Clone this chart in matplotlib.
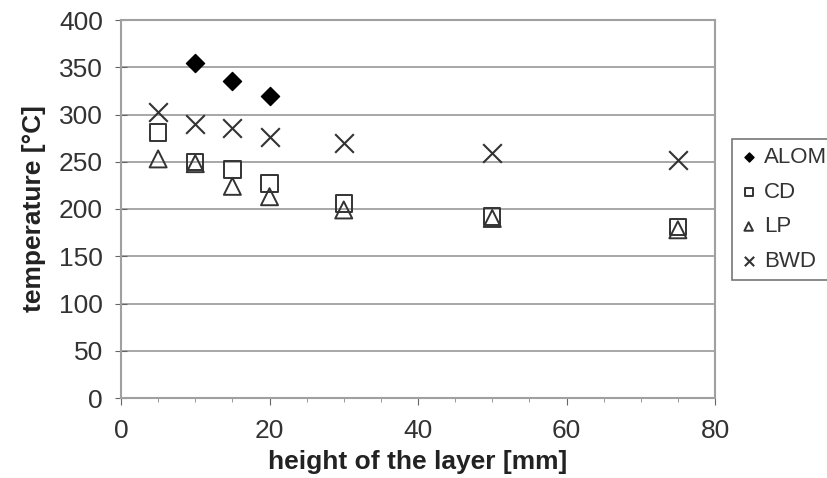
import matplotlib
matplotlib.use("Agg")
import matplotlib.pyplot as plt
from matplotlib.ticker import MultipleLocator

plt.rcParams['font.family'] = ['Liberation Sans', 'DejaVu Sans']

x_alom = [10, 15, 20]
alom = [355, 335, 320]
x_all = [5, 10, 15, 20, 30, 50, 75]
cd = [281, 250, 242, 227, 206, 192, 181]
lp = [253, 248, 224, 213, 199, 190, 178]
bwd = [303, 290, 286, 276, 270, 259, 252]

fig = plt.figure(figsize=(8.27, 4.78), dpi=100)
ax = fig.add_axes([121/827, 80/478, (715-121)/827, (398-20)/478])

gray = '#a0a0a0'
ax.scatter(x_alom, alom, marker='D', s=85, color='black', label='ALOM', zorder=3)
ax.scatter(x_all, cd, marker='s', s=140, facecolors='none', edgecolors='#333333', linewidths=1.4, label='CD', zorder=3)
ax.scatter(x_all, lp, marker='^', s=150, facecolors='none', edgecolors='#333333', linewidths=1.4, label='LP', zorder=3)
ax.scatter(x_all, bwd, marker='x', s=180, color='#333333', linewidths=1.5, label='BWD', zorder=3)

ax.set_xlim(0, 80)
ax.set_ylim(0, 400)
ax.xaxis.set_major_locator(MultipleLocator(20))
ax.xaxis.set_minor_locator(MultipleLocator(5))
ax.yaxis.set_major_locator(MultipleLocator(50))
ax.grid(axis='y', color=gray, linewidth=1.3)
ax.set_axisbelow(True)
for s in ax.spines.values():
    s.set_color(gray)
    s.set_linewidth(1.5)
ax.tick_params(axis='y', direction='inout', length=8, color='#666666', labelsize=19, labelcolor='#333333', pad=9)
ax.tick_params(axis='x', which='major', direction='out', length=5, color='#666666', labelsize=19, labelcolor='#333333', pad=10)
ax.tick_params(axis='x', which='minor', direction='out', length=3, color='#888888')

ax.set_xlabel('height of the layer [mm]', fontsize=19, fontweight='bold', color='#222222', labelpad=5)
ax.set_ylabel('temperature [°C]', fontsize=19, fontweight='bold', color='#222222', labelpad=9)

leg = fig.legend(loc='upper left', bbox_to_anchor=(732/827, 1 - 139/478), fontsize=16,
                 frameon=True, fancybox=False, edgecolor='#555555', handletextpad=0.3,
                 handlelength=0.8, borderpad=0.35, labelspacing=0.62, markerscale=0.5,
                 borderaxespad=0)
leg.get_frame().set_linewidth(1.2)
for t in leg.get_texts():
    t.set_color('#333333')

fig.savefig('out.png', dpi=100)
